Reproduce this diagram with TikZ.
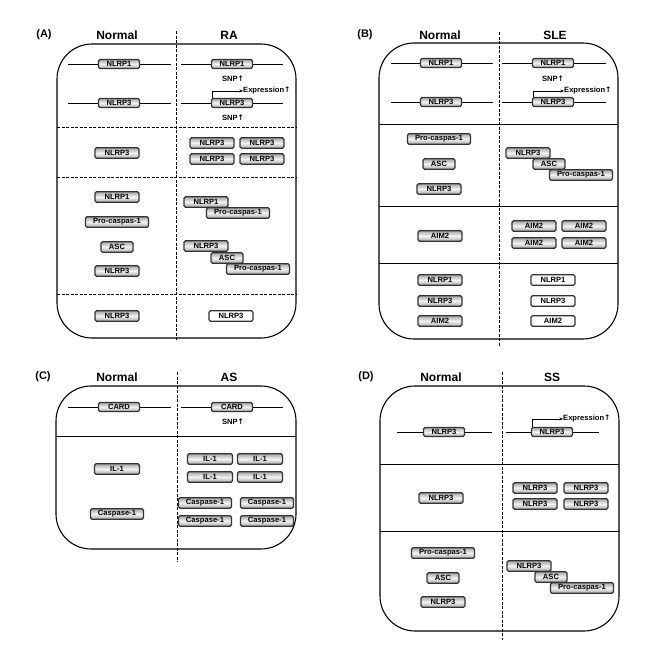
\documentclass[tikz,border=0pt]{standalone}
\usepackage{fontspec}
\setmainfont{Liberation Sans}
\newfontfamily\arrowfont{DejaVu Sans}
\usetikzlibrary{calc,arrows.meta}
\newcommand{\upar}{{\arrowfont\bfseries ↑}}
\tikzset{
  pbase/.style={rectangle, rounded corners=1.5pt, draw=black!80, line width=1.1pt, inner sep=0pt,
    font=\bfseries\fontsize{7.6}{8}\selectfont, minimum height=10.5pt, minimum width=44pt},
  pbox/.style={pbase, top color=gray!70, bottom color=gray!70, middle color=gray!10},
  wbox/.style={pbase, fill=white},
  gbox/.style={pbox, minimum height=9pt, minimum width=41pt},
  hdr/.style={font=\bfseries\fontsize{12}{14}\selectfont, inner sep=0pt},
  plabel/.style={font=\bfseries\fontsize{11}{13}\selectfont, inner sep=0pt},
  small/.style={font=\bfseries\fontsize{7.6}{8}\selectfont, inner sep=0pt},
  panel/.style={draw=black, line width=1.1pt, rounded corners=35pt},
  gline/.style={draw=black, line width=1pt},
  sepd/.style={draw=black, line width=0.9pt, dashed, dash pattern=on 3pt off 1.5pt},
  seps/.style={draw=black, line width=1pt},
  vdash/.style={draw=black, line width=0.8pt, dash pattern=on 3pt off 1.5pt},
  exarrow/.style={draw=black, line width=0.9pt, -{Stealth[length=3.5pt,width=3pt]}},
}
\begin{document}
\begin{tikzpicture}[x=1pt,y=-1pt]
\useasboundingbox (0,0) rectangle (670,645);
% ================= Panel A =================
\node[plabel] (Alab) at (44,35) {(A)};
\node[hdr] (Anor) at (117,35) {Normal};
\node[hdr] (Ara) at (229,35) {RA};
\draw[panel] (57,44) rectangle (296,338);
\draw[sepd] (57,127) -- (296,127);
\draw[sepd] (57,177) -- (296,177);
\draw[sepd] (57,294) -- (296,294);
\draw[vdash] (176,31) -- (176,340);
% gene rows
\coordinate (A1a) at (68,64); \coordinate (A1b) at (171,64);
\coordinate (A1c) at (181,64); \coordinate (A1d) at (283,64);
\coordinate (A3a) at (68,103); \coordinate (A3b) at (171,103);
\coordinate (A3c) at (181,103); \coordinate (A3d) at (283,103);
\draw[gline] (A1a) -- (A1b); \draw[gline] (A1c) -- (A1d);
\draw[gline] (A3a) -- (A3b); \draw[gline] (A3c) -- (A3d);
\node[gbox] (Ag1) at (119,64) {NLRP1};
\node[gbox] (Ag2) at (232,64) {NLRP1};
\node[gbox] (Ag3) at (119,103) {NLRP3};
\node[gbox] (Ag4) at (232,103) {NLRP3};
\node[small] (Asnp1) at (233,79) {SNP\upar};
\node[small] (Asnp2) at (233,118) {SNP\upar};
\node[small, anchor=west] (Aexp) at (243,91) {Expression\upar};
\draw[exarrow] ($(Ag4.north west)+(1.5,0)$) |- (Aexp.west);
% row 2
\node[pbox] (An3) at (117,153) {NLRP3};
\node[pbox] (Ar1) at (212,143) {NLRP3};
\node[pbox] (Ar2) at (262,143) {NLRP3};
\node[pbox] (Ar3) at (212,159) {NLRP3};
\node[pbox] (Ar4) at (262,159) {NLRP3};
% row 3
\node[pbox] (An4) at (117,197) {NLRP1};
\node[pbox, minimum width=63pt] (An5) at (117,222) {Pro-caspas-1};
\node[pbox, minimum width=32pt] (An6) at (117,247) {ASC};
\node[pbox] (An7) at (117,271) {NLRP3};
\node[pbox] (Ar5) at (206,202) {NLRP1};
\node[pbox, minimum width=63pt] (Ar6) at (238,213) {Pro-caspas-1};
\node[pbox] (Ar7) at (206,246) {NLRP3};
\node[pbox, minimum width=32pt] (Ar8) at (227,258) {ASC};
\node[pbox, minimum width=63pt] (Ar9) at (258,269) {Pro-caspas-1};
% row 4
\node[pbox] (An8) at (117,316) {NLRP3};
\node[wbox] (Ar10) at (231,316) {NLRP3};

% ================= Panel B =================
\node[plabel] (Blab) at (365,35) {(B)};
\node[hdr] (Bnor) at (440,35) {Normal};
\node[hdr] (Bsle) at (555,35) {SLE};
\draw[panel] (379,43) rectangle (618,339);
\draw[seps] (379,124) -- (618,124);
\draw[seps] (379,206) -- (618,206);
\draw[seps] (379,263) -- (618,263);
\draw[vdash] (499,32) -- (499,347);
\coordinate (B1a) at (391,63); \coordinate (B1b) at (493,63);
\coordinate (B1c) at (502,63); \coordinate (B1d) at (606,63);
\coordinate (B3a) at (391,102); \coordinate (B3b) at (493,102);
\coordinate (B3c) at (502,102); \coordinate (B3d) at (606,102);
\draw[gline] (B1a) -- (B1b); \draw[gline] (B1c) -- (B1d);
\draw[gline] (B3a) -- (B3b); \draw[gline] (B3c) -- (B3d);
\node[gbox] (Bg1) at (441,63) {NLRP1};
\node[gbox] (Bg2) at (553,63) {NLRP1};
\node[gbox] (Bg3) at (441,102) {NLRP3};
\node[gbox] (Bg4) at (553,102) {NLRP3};
\node[small] (Bsnp1) at (553,79) {SNP\upar};
\node[small, anchor=west] (Bexp) at (564,91) {Expression\upar};
\draw[exarrow] ($(Bg4.north west)+(1.5,0)$) |- (Bexp.west);
% row 2
\node[pbox, minimum width=63pt] (Bn1) at (439,139) {Pro-caspas-1};
\node[pbox, minimum width=32pt] (Bn2) at (439,164) {ASC};
\node[pbox] (Bn3) at (439,189) {NLRP3};
\node[pbox] (Br1) at (528,153) {NLRP3};
\node[pbox, minimum width=32pt] (Br2) at (549,164) {ASC};
\node[pbox, minimum width=63pt] (Br3) at (581,175) {Pro-caspas-1};
% row 3
\node[pbox] (Bn4) at (440,236) {AIM2};
\node[pbox] (Br4) at (534,226) {AIM2};
\node[pbox] (Br5) at (584,226) {AIM2};
\node[pbox] (Br6) at (534,243) {AIM2};
\node[pbox] (Br7) at (584,243) {AIM2};
% row 4
\node[pbox] (Bn5) at (440,280) {NLRP1};
\node[pbox] (Bn6) at (440,301) {NLRP3};
\node[pbox] (Bn7) at (440,321) {AIM2};
\node[wbox] (Br8) at (553,280) {NLRP1};
\node[wbox] (Br9) at (553,301) {NLRP3};
\node[wbox] (Br10) at (553,321) {AIM2};

% ================= Panel C =================
\node[plabel] (Clab) at (43,377) {(C)};
\node[hdr] (Cnor) at (117,377) {Normal};
\node[hdr] (Cas) at (229,377) {AS};
\draw[panel] (56,386) rectangle (296,549);
\draw[seps] (56,436) -- (296,436);
\draw[vdash] (177,372) -- (177,562);
\coordinate (C1a) at (68,407); \coordinate (C1b) at (171,407);
\coordinate (C1c) at (181,407); \coordinate (C1d) at (283,407);
\draw[gline] (C1a) -- (C1b); \draw[gline] (C1c) -- (C1d);
\node[gbox] (Cg1) at (119,407) {CARD};
\node[gbox] (Cg2) at (232,407) {CARD};
\node[small] (Csnp) at (233,422) {SNP\upar};
\node[pbox, minimum width=45pt] (Cn1) at (117,469) {IL-1};
\node[pbox, minimum width=53pt] (Cn2) at (117,514) {Caspase-1};
\node[pbox, minimum width=45pt] (Cr1) at (210,459) {IL-1};
\node[pbox, minimum width=45pt] (Cr2) at (260,459) {IL-1};
\node[pbox, minimum width=45pt] (Cr3) at (210,477) {IL-1};
\node[pbox, minimum width=45pt] (Cr4) at (260,477) {IL-1};
\node[pbox, minimum width=53pt] (Cr5) at (205,503) {Caspase-1};
\node[pbox, minimum width=53pt] (Cr6) at (267,503) {Caspase-1};
\node[pbox, minimum width=53pt] (Cr7) at (205,521) {Caspase-1};
\node[pbox, minimum width=53pt] (Cr8) at (267,521) {Caspase-1};

% ================= Panel D =================
\node[plabel] (Dlab) at (366,377) {(D)};
\node[hdr] (Dnor) at (441,377) {Normal};
\node[hdr] (Dss) at (552,377) {SS};
\draw[panel] (380,386) rectangle (619,631);
\draw[seps] (380,464) -- (619,464);
\draw[seps] (380,531) -- (619,531);
\draw[vdash] (502,372) -- (502,640);
\coordinate (D1a) at (397,432); \coordinate (D1b) at (492,432);
\coordinate (D1c) at (506,432); \coordinate (D1d) at (599,432);
\draw[gline] (D1a) -- (D1b); \draw[gline] (D1c) -- (D1d);
\node[gbox] (Dg1) at (444,432) {NLRP3};
\node[gbox] (Dg2) at (552,432) {NLRP3};
\node[small, anchor=west] (Dexp) at (563,419) {Expression\upar};
\draw[exarrow] ($(Dg2.north west)+(1.5,0)$) |- (Dexp.west);
% row 2
\node[pbox] (Dn1) at (441,498) {NLRP3};
\node[pbox] (Dr1) at (535,488) {NLRP3};
\node[pbox] (Dr2) at (586,488) {NLRP3};
\node[pbox] (Dr3) at (535,504) {NLRP3};
\node[pbox] (Dr4) at (586,504) {NLRP3};
% row 3
\node[pbox, minimum width=63pt] (Dn2) at (443,553) {Pro-caspas-1};
\node[pbox, minimum width=32pt] (Dn3) at (443,578) {ASC};
\node[pbox] (Dn4) at (443,602) {NLRP3};
\node[pbox] (Dr5) at (529,566) {NLRP3};
\node[pbox, minimum width=32pt] (Dr6) at (551,577) {ASC};
\node[pbox, minimum width=63pt] (Dr7) at (582,588) {Pro-caspas-1};
\end{tikzpicture}
\end{document}
